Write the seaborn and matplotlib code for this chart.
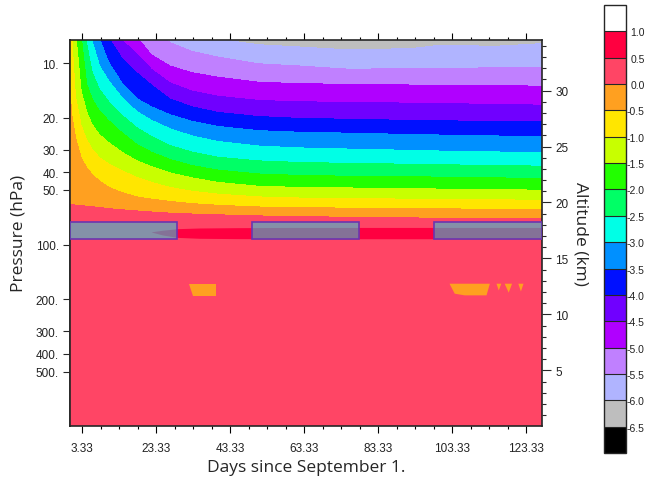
import numpy as np
import matplotlib
matplotlib.use("Agg")
import matplotlib.pyplot as plt
from matplotlib.patches import Rectangle
from matplotlib.ticker import MultipleLocator, NullLocator
import seaborn as sns

sns.set_style("ticks")
plt.rcParams['font.family'] = ['Liberation Sans', 'DejaVu Sans']

# ---------------------------------------------------------------------------
# Data
# ---------------------------------------------------------------------------
# days since September 1 at which the contour edges were read
days = [0, 0.5, 1.5, 3, 4.5, 6, 8, 10.5, 14, 18, 22, 27, 33, 40, 51, 62, 75, 92, 100, 115, 127.6]

# altitude (km) of each contour edge per day (above ~34.5 km = off the top)
edge_0p0 = [19.82, 19.8, 19.77, 19.72, 19.67, 19.62, 19.55, 19.45, 19.35, 19.25, 19.15,
            19.05, 18.97, 18.9, 18.8, 18.74, 18.68, 18.62, 18.6, 18.58, 18.57]
edge_m0p5 = [30.0, 27.8, 25.8, 24.0, 23.1, 22.5, 21.9, 21.35, 20.9, 20.5, 20.3,
             20.1, 19.9, 19.75, 19.6, 19.53, 19.5, 19.45, 19.43, 19.4, 19.37]
edge_m1p0 = [37.0, 34.6, 29.4, 26.9, 25.6, 24.75, 24.0, 23.45, 22.85, 22.25, 21.8,
             21.35, 21.0, 20.75, 20.5, 20.4, 20.35, 20.3, 20.28, 20.24, 20.2]
edge_m1p5 = [40.0, 38.5, 35.3, 30.0, 28.1, 26.95, 26.05, 25.35, 24.5, 23.75, 23.2,
             22.65, 22.2, 21.8, 21.45, 21.35, 21.3, 21.25, 21.2, 21.15, 21.1]
edge_m2p0 = [43.0, 42.0, 39.0, 34.9, 30.6, 29.25, 28.15, 27.3, 26.25, 25.2, 24.5,
             23.85, 23.3, 22.9, 22.55, 22.42, 22.35, 22.3, 22.27, 22.2, 22.15]
edge_m2p5 = [46.0, 45.0, 42.5, 38.5, 34.2, 31.6, 30.1, 29.0, 27.8, 26.7, 25.9,
             25.1, 24.5, 24.05, 23.72, 23.58, 23.5, 23.42, 23.38, 23.3, 23.25]
edge_m3p0 = [49.0, 48.0, 46.0, 42.0, 38.0, 34.4, 32.2, 30.85, 29.4, 28.15, 27.35,
             26.6, 25.95, 25.45, 25.05, 24.88, 24.78, 24.66, 24.6, 24.52, 24.44]
edge_m3p5 = [52.0, 51.0, 49.0, 45.5, 41.5, 38.0, 34.6, 32.5, 30.7, 29.3, 28.55,
             27.85, 27.25, 26.8, 26.42, 26.28, 26.2, 26.08, 26.03, 25.95, 25.87]
edge_m4p0 = [55.0, 54.0, 52.0, 49.0, 45.0, 41.5, 38.0, 34.7, 32.9, 31.6, 30.5,
             29.25, 28.55, 28.05, 27.68, 27.52, 27.44, 27.34, 27.3, 27.25, 27.2]
edge_m4p5 = [58.0, 57.0, 55.0, 52.0, 48.5, 45.0, 41.5, 37.5, 34.5, 33.3, 31.9,
             30.7, 29.95, 29.5, 29.12, 29.0, 28.95, 28.88, 28.84, 28.77, 28.7]
edge_m5p0 = [61.0, 60.0, 58.0, 55.0, 52.0, 49.0, 45.0, 41.0, 37.5, 34.8, 33.2,
             32.2, 31.6, 31.2, 30.75, 30.62, 30.56, 30.5, 30.48, 30.44, 30.4]
edge_m5p5 = [64.0, 63.0, 61.0, 58.0, 55.0, 52.0, 49.0, 45.0, 41.0, 38.0, 35.4,
             34.3, 33.5, 33.0, 32.4, 32.2, 31.92, 31.95, 32.0, 32.03, 32.05]
edge_m6p0 = [67.0, 66.0, 64.0, 61.0, 58.0, 55.0, 52.0, 48.0, 44.0, 41.0, 39.0,
             37.0, 35.8, 34.6, 34.1, 33.9, 33.65, 33.75, 34.05, 33.96, 34.2]

edge_values = [0.25, 0.0, -0.5, -1.0, -1.5, -2.0, -2.5, -3.0, -3.5, -4.0, -4.5, -5.0, -5.5, -6.0, -6.25]

# thin red layer (0.5 - 1.0) just below the tropopause
lens_days = [22, 25, 29, 35, 45, 60, 127.6]
lens_top = [17.38, 17.52, 17.66, 17.72, 17.75, 17.77, 17.77]
lens_bot = [17.36, 17.1, 16.88, 16.8, 16.77, 16.76, 16.76]

# small orange patches near 200 hPa
blob_days = [[32.1, 39.5, 39.5, 33.2],
             [102.6, 113.5, 112.6, 106.7, 104.0],
             [115.3, 116.6, 115.9],
             [117.5, 119.5, 118.6],
             [121.2, 122.6, 121.9]]
blob_alts = [[12.74, 12.74, 11.6, 11.6],
             [12.74, 12.74, 11.7, 11.7, 11.85],
             [12.74, 12.74, 12.14],
             [12.74, 12.74, 11.94],
             [12.74, 12.74, 12.05]]

# shaded periods (days) and altitude band (km)
box_start = [0.0, 49.1, 98.4]
box_end = [29.0, 78.1, 127.6]
box_bottom_km = 16.76
box_top_km = 18.25

levels = [-6.5, -6.0, -5.5, -5.0, -4.5, -4.0, -3.5, -3.0, -2.5, -2.0,
          -1.5, -1.0, -0.5, 0.0, 0.5, 1.0]
colors = ['#000000', '#bebebe', '#b0b4ff', '#c080ff', '#b000ff', '#7000ff', '#0010ff',
          '#0090ff', '#00ffe6', '#00ff66', '#22ff00', '#c8ff00', '#ffe600', '#ffa020',
          '#ff4565', '#ff0040', '#ffffff']

day_ticks = [3.33, 23.33, 43.33, 63.33, 83.33, 103.33, 123.33]
p_ticks = [10, 20, 30, 40, 50, 100, 200, 300, 400, 500]
alt_ticks = [5, 10, 15, 20, 25, 30]

# ---------------------------------------------------------------------------
# Grid: each row follows one contour edge, so contourf traces the edges
# ---------------------------------------------------------------------------
n = len(days)
alt_grid = np.vstack([np.zeros(n), edge_0p0, edge_m0p5, edge_m1p0, edge_m1p5, edge_m2p0,
                      edge_m2p5, edge_m3p0, edge_m3p5, edge_m4p0, edge_m4p5, edge_m5p0,
                      edge_m5p5, edge_m6p0, np.full(n, 70.0)])
day_grid = np.tile(days, (alt_grid.shape[0], 1))
val_grid = np.tile(np.array(edge_values)[:, None], (1, n))


def alt_to_p(z):
    return 1000.0 * np.exp(-np.asarray(z, dtype=float) / 7.05)


def p_to_alt(p):
    return 7.05 * np.log(1000.0 / np.clip(np.asarray(p, dtype=float), 1e-6, None))


fig = plt.figure(figsize=(6.5, 4.85), dpi=100)
ax = fig.add_axes([70 / 650, 58.3 / 485, 472 / 650, 386 / 485])

cs = ax.contourf(day_grid, alt_grid, val_grid, levels=levels, colors=colors, extend='both')

ax.fill_between(lens_days, lens_bot, lens_top, color='#ff0040', lw=0, zorder=2)
for bd, ba in zip(blob_days, blob_alts):
    ax.fill(bd, ba, color='#ffa020', lw=0, zorder=2)

for s, e in zip(box_start, box_end):
    ax.add_patch(Rectangle((s, box_bottom_km), e - s, box_top_km - box_bottom_km,
                           facecolor=(0.12, 0.82, 0.88, 0.55), edgecolor='#6b35b0',
                           lw=1.2, zorder=3))

ax.set_xlim(0, 127.6)
ax.set_ylim(0.05, 34.55)

# bottom / top axis
ax.set_xticks(day_ticks, labels=[f"{d:.2f}" for d in day_ticks])
ax.xaxis.set_minor_locator(MultipleLocator(5, offset=3.33))
ax.tick_params(axis='x', which='both', top=True, bottom=True, direction='out',
               labelsize=8.5, pad=7, colors='black', labelcolor='#222222')
ax.tick_params(axis='x', which='major', length=5, width=0.8)
ax.tick_params(axis='x', which='minor', length=2.5, width=0.8)
ax.set_xlabel('Days since September 1.', family='Open Sans', fontsize=12.5, labelpad=3)

# right altitude axis
ax.yaxis.tick_right()
ax.yaxis.set_label_position('right')
ax.set_yticks(alt_ticks, labels=[str(a) for a in alt_ticks])
ax.yaxis.set_minor_locator(MultipleLocator(1))
ax.tick_params(axis='y', which='major', direction='out', length=6.5, width=0.8,
               pad=3, labelsize=8.5, labelcolor='#222222')
ax.tick_params(axis='y', which='minor', direction='out', length=3, width=0.8)
ax.set_ylabel('Altitude (km)', family='Open Sans', fontsize=12.5, rotation=270,
              va='bottom', labelpad=3)

# left pressure axis
sec = ax.secondary_yaxis('left', functions=(alt_to_p, p_to_alt))
sec.set_yticks(p_ticks, labels=[f"{p}." for p in p_ticks])
sec.yaxis.set_minor_locator(NullLocator())
sec.tick_params(axis='y', direction='out', length=5, width=0.8, pad=3,
                labelsize=8.5, labelcolor='#222222')
sec.set_ylabel('Pressure (hPa)', family='Open Sans', fontsize=12.5, labelpad=7)

for sp in ax.spines.values():
    sp.set_linewidth(1.2)
sec.spines['left'].set_linewidth(1.2)

# colour bar
cax = fig.add_axes([604 / 650, 31 / 485, 22 / 650, 448 / 485])
cb = fig.colorbar(cs, cax=cax, extendrect=True, extendfrac=1 / 15, drawedges=True)
cb.set_ticks(levels, labels=[f"{v:.1f}" for v in levels])
cb.outline.set_linewidth(1.0)
cb.dividers.set_linewidth(0.8)
cb.ax.tick_params(length=0, pad=13.5, labelsize=7.5, labelcolor='#222222')
for lab in cb.ax.get_yticklabels():
    lab.set_horizontalalignment('right')

fig.savefig('out.png', dpi=100)
